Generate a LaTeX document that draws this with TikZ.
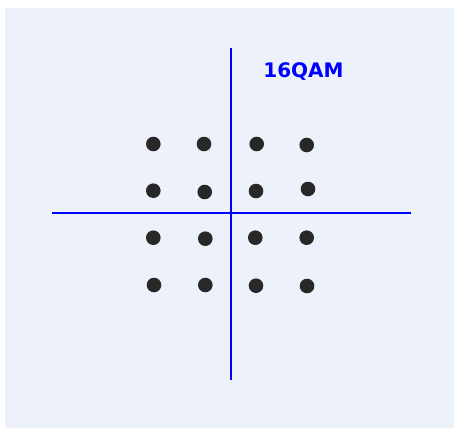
\documentclass[tikz,border=0pt]{standalone}
\usepackage{fontspec}
\usepackage{xcolor}
\usepackage{tikz}
\usetikzlibrary{positioning}
\newfontfamily\labelfont{DejaVu Sans}
\definecolor{panelbg}{RGB}{237,241,249}
\definecolor{axisblue}{RGB}{0,0,255}
\definecolor{dotgray}{RGB}{40,40,40}

\begin{document}
\begin{tikzpicture}[x=1pt, y=-1pt,
    symdot/.style={circle, fill=dotgray, inner sep=0pt, minimum size=14.6pt},
    axisline/.style={draw=axisblue, line width=2.5pt}]
  % canvas and panel
  \useasboundingbox (0,0) rectangle (454,428);
  \fill[panelbg] (5,8) rectangle (454,428);

  % axis ends
  \coordinate (ytop) at (231,48);
  \coordinate (ybot) at (231,380);
  \coordinate (xleft) at (52,213);
  \coordinate (xright) at (411,213);
  \draw[axisline] (ytop) -- (ybot);
  \draw[axisline] (xleft) -- (xright);

  % constellation points
  \foreach \px/\py [count=\i] in {153.3/144, 204/144, 256.7/144, 306.7/145,
                                  153.3/190.7, 204.7/192, 256/191, 308/189,
                                  153.3/237.7, 205.3/238.7, 255.3/237.7, 306.7/237.7,
                                  154/285, 205.3/285, 256/285.7, 307/286}
    \node[symdot] (p\i) at (\px,\py) {};

  \node[font=\labelfont\bfseries\fontsize{20}{24}\selectfont, text=axisblue,
        inner sep=0pt] (title) at (303.5,72) {16QAM};
\end{tikzpicture}
\end{document}
